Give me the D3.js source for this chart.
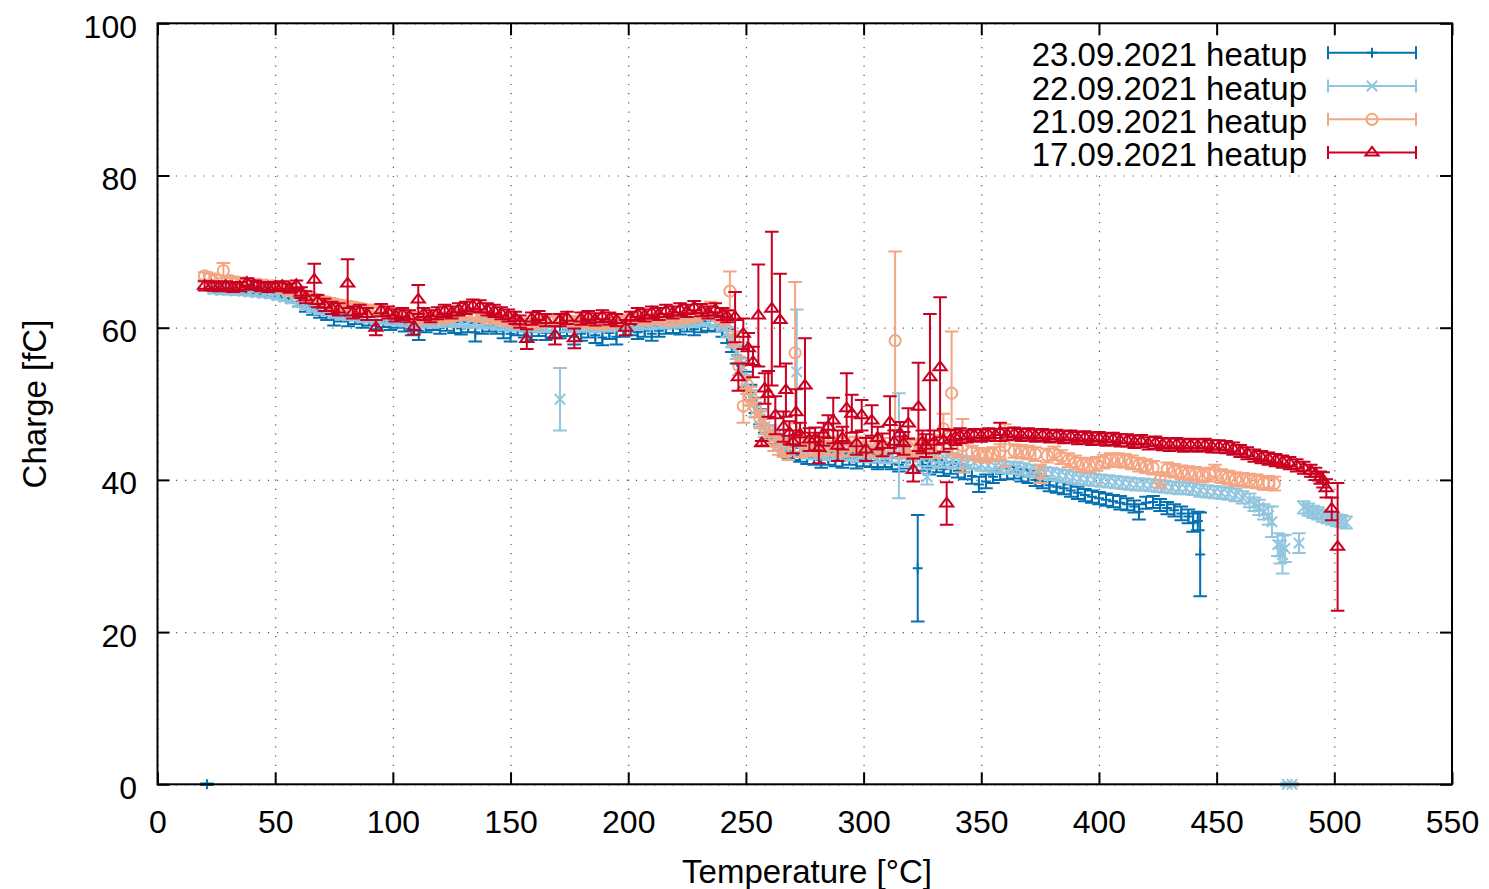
<!DOCTYPE html>
<html><head><meta charset="utf-8">
<script src="https://cdn.jsdelivr.net/npm/d3@7"></script>
<style>body{margin:0;background:#fff} text{font-family:"Liberation Sans",Arial,Helvetica,sans-serif;fill:#000}</style>
</head><body><svg id="c" width="1489" height="889"></svg>
<script>
// [temperature °C, charge fC, error fC]
const s23 = [[21,0,0.1],[24,65.3,0.5],[27,65.2,0.5],[30,65.3,0.5],[33,65.1,0.5],[36,65.2,0.5],[39,65.0,0.5],[42,64.9,0.5],[45,64.8,0.6],[48,64.6,0.5],[51,64.5,0.5],[54,64.3,0.6],[57,63.9,0.6],[60,63.4,0.6],[63,62.8,0.7],[66,62.4,0.7],[69,62.0,0.7],[72,61.8,0.8],[75,61.3,1.0],[78,61.5,0.7],[81,61.0,0.8],[84,61.2,0.7],[87,60.8,0.8],[90,61.0,0.7],[93,60.6,0.8],[96,60.8,0.7],[99,60.5,0.8],[102,60.7,0.7],[105,60.3,0.8],[108,60.0,1.0],[111,59.6,1.2],[114,60.2,0.8],[117,60.4,0.7],[120,60.0,0.8],[123,60.3,0.7],[126,60.1,0.8],[129,59.9,0.8],[132,60.2,0.8],[135,59.4,1.2],[138,60.0,0.8],[141,60.3,0.8],[144,60.0,0.8],[147,59.6,1.0],[150,59.2,1.0],[153,59.8,0.8],[156,59.5,0.8],[159,59.4,1.0],[162,59.7,0.8],[165,59.3,0.9],[168,59.5,0.8],[171,59.4,0.8],[174,59.7,0.8],[177,58.8,1.0],[180,59.2,0.9],[183,59.5,0.8],[186,59.0,1.0],[189,58.7,1.0],[192,59.3,0.8],[195,58.8,1.0],[198,59.6,0.8],[201,59.8,0.8],[204,59.4,0.9],[207,59.6,0.8],[210,59.2,0.9],[213,59.6,0.8],[216,59.9,0.7],[219,60.0,0.7],[222,59.9,0.8],[225,60.2,0.7],[228,59.8,0.8],[231,60.1,0.7],[234,60.3,0.7],[237,60.2,0.7],[240,59.6,0.8],[242,58.9,0.9],[244,57.8,1.0],[246,56.4,1.1],[248,55.0,1.0],[250,53.2,1.0],[252,51.5,1.0],[254,49.8,1.0],[256,48.3,1.0],[258,47.2,1.0],[260,46.3,0.9],[262,45.6,0.9],[264,44.8,0.9],[266,44.2,0.9],[268,43.8,0.9],[270,43.5,0.9],[273,43.3,0.9],[276,43.0,0.9],[279,42.9,0.9],[282,42.6,1.0],[285,42.9,0.9],[288,42.7,0.9],[291,42.5,0.9],[294,42.8,0.8],[297,42.4,0.9],[300,42.6,0.8],[303,42.5,0.8],[306,42.3,0.9],[309,42.5,0.8],[312,42.2,0.8],[315,42.0,0.9],[318,42.3,0.8],[321,41.8,0.9],[323,28.4,7.0],[325,42.0,0.8],[328,41.6,0.9],[331,41.8,0.8],[334,41.4,0.9],[337,41.6,0.8],[340,41.2,0.9],[343,41.0,0.9],[346,40.5,1.0],[349,39.4,1.0],[352,39.8,0.9],[355,40.4,0.8],[358,40.8,0.8],[361,40.9,0.8],[364,41.0,0.8],[367,40.6,0.8],[370,40.4,0.8],[373,40.0,0.8],[376,39.7,0.8],[379,39.3,0.8],[382,39.1,0.8],[385,38.9,0.8],[388,38.6,0.8],[391,38.3,0.8],[394,38.0,0.8],[397,37.8,0.8],[400,37.6,0.8],[403,37.4,0.8],[406,37.2,0.8],[409,37.0,0.9],[412,36.8,0.8],[415,36.5,0.8],[417,35.8,1.0],[420,37.0,0.8],[423,37.1,0.8],[426,36.7,0.8],[429,36.3,0.8],[432,36.0,0.8],[435,35.6,0.9],[438,35.2,0.9],[440,34.4,1.2],[442,34.6,1.2],[443,30.2,5.5]];

const s22 = [[24,65.0,0.5],[27,64.9,0.5],[30,64.9,0.5],[33,64.8,0.5],[36,64.8,0.5],[39,64.7,0.5],[42,64.6,0.5],[45,64.5,0.5],[48,64.4,0.5],[51,64.2,0.5],[54,64.0,0.5],[57,63.8,0.6],[60,63.4,0.6],[63,63.0,0.6],[66,62.7,0.6],[69,62.4,0.6],[72,62.2,0.6],[75,61.9,0.6],[78,61.7,0.6],[81,61.6,0.6],[84,61.5,0.6],[87,61.3,0.6],[90,61.3,0.6],[93,61.1,0.6],[96,61.2,0.6],[99,61.0,0.6],[102,60.9,0.6],[105,60.8,0.6],[108,60.7,0.6],[111,60.6,0.6],[114,60.8,0.6],[117,60.6,0.6],[120,60.7,0.6],[123,60.9,0.6],[126,60.7,0.6],[129,60.8,0.6],[132,60.6,0.6],[135,60.7,0.6],[138,60.5,0.6],[141,60.6,0.6],[144,60.4,0.6],[147,60.3,0.6],[150,60.2,0.6],[153,60.3,0.6],[156,60.1,0.6],[159,60.2,0.6],[162,60.0,0.6],[165,60.1,0.6],[168,60.0,0.6],[171,50.6,4.1],[174,60.1,0.6],[177,60.0,0.6],[180,60.2,0.6],[183,60.1,0.6],[186,60.0,0.6],[189,60.2,0.6],[192,60.1,0.6],[195,60.3,0.6],[198,60.2,0.6],[201,60.4,0.6],[204,60.3,0.6],[207,60.5,0.6],[210,60.4,0.6],[213,60.6,0.6],[216,60.5,0.6],[219,60.7,0.6],[222,60.6,0.6],[225,60.8,0.6],[228,60.7,0.6],[231,60.9,0.6],[234,60.8,0.6],[237,60.6,0.6],[240,60.2,0.6],[242,59.4,0.7],[244,58.2,0.8],[246,56.8,0.9],[248,55.0,1.0],[250,52.8,1.0],[252,50.8,1.0],[254,49.2,1.0],[256,48.0,1.0],[258,47.0,1.0],[260,46.2,1.0],[262,45.5,1.0],[264,45.0,1.0],[266,44.6,1.0],[268,44.3,1.0],[271.6,54.2,8.2],[273,44.0,1.0],[276,43.8,1.0],[279,43.7,1.0],[282,43.9,1.0],[285,43.6,1.0],[288,43.8,1.0],[291,43.5,1.0],[294,43.6,1.0],[297,43.4,1.0],[300,43.5,1.0],[303,43.3,1.0],[306,43.4,1.0],[309,43.2,1.0],[312,43.3,1.0],[315,44.5,6.9],[318,43.2,1.5],[321,42.9,1.0],[324,43.0,1.2],[327,40.4,1.0],[329,42.8,1.0],[332,42.6,1.0],[335,42.7,1.0],[338,42.5,1.0],[341,42.4,0.8],[344,42.2,0.8],[347,42.3,0.8],[350,42.0,0.8],[353,41.9,0.8],[356,41.8,0.8],[359,41.7,0.8],[362,41.6,0.8],[365,41.6,0.8],[368,41.4,0.8],[371,41.2,0.8],[374,41.1,0.8],[377,40.9,0.8],[380,40.8,0.8],[383,40.6,0.8],[386,40.5,0.8],[389,40.3,0.8],[392,40.2,0.8],[395,40.1,0.8],[398,40.0,0.8],[401,39.9,0.8],[404,39.8,0.8],[407,39.7,0.8],[410,39.6,0.8],[413,39.5,0.8],[416,39.4,0.8],[419,39.4,0.8],[422,39.3,0.8],[425,39.2,0.8],[428,39.1,0.8],[431,39.0,0.8],[434,38.9,0.8],[437,38.9,0.8],[440,38.8,0.8],[443,38.6,0.8],[446,38.5,0.8],[449,38.4,0.8],[452,38.3,0.8],[455,38.2,0.8],[458,38.0,0.8],[461,37.7,0.8],[464,37.3,0.9],[466,36.8,0.9],[468,36.4,1.0],[470,35.8,1.0],[472,35.3,1.2],[473.5,34.5,2.0],[476,31.5,1.5],[477,30.5,1.5],[478,30.2,2.5],[479,31.0,1.8],[480,0,0.2],[482,0,0.2],[485,31.7,1.3],[487,36.4,0.8],[489,36.1,0.8],[491,35.8,0.8],[493,35.6,0.8],[495,35.3,0.8],[497,35.1,0.8],[499,34.9,0.8],[501,34.7,0.8],[503,34.6,0.8],[505,34.4,0.8]];

const s21 = [[20,66.8,0.5],[22,66.6,0.5],[25,66.4,0.5],[28,67.5,1.0],[31,66.2,0.5],[34,66.0,0.5],[37,65.9,0.5],[40,65.8,0.5],[43,65.7,0.5],[46,65.6,0.5],[49,65.5,0.5],[52,65.3,0.5],[55,65.0,0.5],[58,64.7,0.5],[61,64.4,0.5],[64,64.1,0.5],[67,63.8,0.6],[70,63.5,0.6],[73,63.3,0.6],[76,63.1,0.6],[79,62.9,0.6],[82,62.8,0.6],[85,62.6,0.6],[88,62.4,0.6],[91,62.3,0.6],[94,62.2,0.6],[97,62.0,0.6],[100,61.9,0.6],[103,61.7,0.6],[106,61.6,0.6],[109,61.4,0.6],[112,61.3,0.6],[115,61.2,0.6],[118,61.3,0.6],[121,61.2,0.6],[124,61.4,0.6],[127,61.6,0.6],[130,61.8,0.6],[133,61.7,0.6],[136,61.5,0.6],[139,61.4,0.6],[142,61.3,0.6],[145,61.1,0.6],[148,61.0,0.6],[151,60.8,0.6],[154,60.6,0.6],[157,60.5,0.6],[160,60.5,0.6],[163,60.7,0.6],[166,60.9,0.6],[169,61.0,0.6],[172,61.1,0.6],[175,60.9,0.6],[178,60.8,0.6],[181,60.7,0.6],[184,60.6,0.6],[187,60.5,0.6],[190,60.5,0.6],[193,60.6,0.6],[196,60.8,0.6],[199,61.0,0.6],[202,61.2,0.6],[205,61.1,0.6],[208,61.0,0.6],[211,61.2,0.6],[214,61.1,0.6],[217,61.0,0.6],[220,61.1,0.6],[223,61.2,0.6],[226,61.4,0.6],[229,61.5,0.6],[232,61.8,0.6],[235,62.6,0.8],[238,61.5,0.6],[241,61.0,0.7],[243.2,64.8,2.6],[245,58.5,1.0],[247,55.0,1.2],[248.9,49.7,2.2],[250.5,52.5,1.2],[252,51.0,1.2],[254,49.5,1.2],[256,48.0,1.2],[258,46.8,1.2],[260,45.8,1.2],[262,45.0,1.2],[264,44.5,1.2],[266,44.2,1.2],[268,43.9,1.3],[270.9,56.7,9.3],[273,44.2,1.2],[276,44.5,1.2],[279,44.3,1.2],[282,44.6,1.2],[285,44.4,1.2],[288,44.5,1.2],[291,44.3,1.2],[294,44.4,1.2],[297,44.5,1.2],[300,44.3,1.2],[303,44.4,1.2],[306,44.2,1.2],[309,44.3,1.2],[313.4,58.3,11.7],[316,44.1,1.2],[319,44.3,1.2],[322,44.0,1.2],[325,44.2,1.2],[328,44.1,1.2],[331,44.4,1.5],[333.9,46.7,2.0],[337.4,51.4,8.1],[340,44.0,1.0],[342,44.5,3.5],[346,43.6,0.9],[349,43.3,0.9],[352,43.2,0.9],[355,43.4,0.9],[358,43.7,1.0],[360,44.5,2.8],[364,43.8,0.9],[367,43.7,0.9],[370,43.6,0.9],[373,43.4,0.9],[375,40.8,1.2],[378,43.2,0.9],[381,43.5,0.9],[384,43.0,0.9],[387,42.6,0.9],[390,42.3,0.9],[393,42.0,0.9],[396,41.9,0.9],[399,42.1,0.9],[402,42.4,0.9],[405,42.6,0.9],[408,42.6,0.9],[411,42.5,0.9],[414,42.3,0.9],[417,42.0,0.9],[420,41.8,0.9],[423,41.6,0.9],[426,40.0,1.0],[429,41.4,0.9],[432,41.2,0.9],[435,41.0,0.9],[438,40.9,0.9],[441,40.8,0.9],[444,40.6,0.9],[447,40.7,0.9],[449.3,41.1,0.9],[452,40.5,0.9],[455,40.3,0.9],[458,40.1,0.9],[461,40.0,0.9],[464,39.9,0.9],[467,39.8,0.9],[470,39.6,0.9],[472,39.6,0.9],[474.5,39.5,0.9]];

const s17 = [[20,65.5,0.6],[23,65.5,0.6],[26,65.4,0.6],[29,65.5,0.6],[32,65.3,0.6],[35,65.4,0.6],[38,65.9,0.6],[41,65.6,0.6],[44,65.4,0.6],[47,65.3,0.6],[50,65.4,0.6],[53,65.5,0.6],[56,65.2,0.6],[59,65.6,0.6],[61,64.6,0.7],[63,64.0,0.8],[66.6,66.3,2.1],[68,63.5,0.8],[71,63.0,0.8],[74,62.6,0.8],[77,62.4,0.8],[80.8,65.8,3.2],[83,62.0,0.8],[86,62.2,0.8],[89,61.8,0.8],[92.8,60.0,1.0],[95,62.3,0.8],[98,62.0,0.8],[101,61.6,0.8],[104,61.8,0.8],[107,61.5,0.8],[109,60.1,1.0],[110.8,63.7,1.9],[113,61.8,0.8],[116,61.5,0.8],[119,61.9,0.8],[122,62.2,0.8],[125,62.0,0.8],[128,62.4,0.8],[131,62.6,0.8],[134,62.9,0.8],[137,62.8,0.8],[140,62.4,0.8],[143,62.2,0.8],[146,61.9,0.8],[149,61.6,0.8],[152,61.3,0.8],[154,60.8,0.8],[156.9,58.5,1.3],[159,61.2,0.8],[162,61.4,0.8],[165,61.0,0.8],[168.9,59.0,1.2],[171,61.0,0.8],[174,61.3,0.8],[177.1,58.6,1.3],[180,61.2,0.8],[183,61.4,0.8],[186,61.1,0.8],[189,61.5,0.8],[192,61.2,0.8],[195,61.0,0.8],[198.9,60.0,1.0],[201,61.3,0.8],[204,61.8,0.8],[207,61.6,0.8],[210,62.0,0.8],[213,61.8,0.8],[216,62.2,0.8],[219,62.0,0.8],[222,62.4,0.8],[225,62.2,0.8],[228,62.7,0.8],[231,62.3,0.8],[234,62.0,0.8],[237,62.4,0.8],[240,61.8,0.8],[242,61.5,0.8],[245.4,61.4,3.3],[246.8,53.5,1.8],[248.9,59.2,2.0],[251,57.3,2.0],[253,55.5,2.0],[255.3,61.6,6.7],[256.7,44.8,0.3],[258,52.0,2.0],[259.5,51.3,3.0],[261,62.5,10.1],[262.5,48.5,2.5],[264.5,61.0,6.1],[266,47.0,2.0],[267,51.8,3.5],[268.5,46.2,1.5],[270,45.0,1.5],[271.3,48.9,3.0],[273,46.0,1.5],[275.1,52.4,6.2],[277,45.3,1.5],[279.4,45.4,1.5],[281,44.2,2.0],[283,46.0,1.5],[285,47.0,1.5],[287.1,47.8,3.0],[289,44.5,2.0],[291,45.5,1.5],[292.8,49.4,4.6],[295,48.7,2.5],[297,44.8,1.5],[299.2,48.5,2.0],[301,44.0,1.5],[303.5,47.8,2.0],[306,45.5,1.5],[308,44.6,1.5],[311.2,47.6,3.4],[313,45.0,1.5],[315.5,46.1,1.5],[317,44.8,1.5],[319,47.4,2.0],[321.1,41.3,1.5],[323.3,49.6,5.8],[325,45.0,1.5],[326.5,44.5,1.5],[328.2,53.5,8.3],[330,45.0,1.5],[332.5,54.8,9.2],[334,45.2,1.5],[335.3,36.9,2.8],[337,45.3,1.2],[339,45.6,1.0],[341,45.8,1.0],[344,45.7,0.8],[347,45.9,0.8],[350,45.8,0.8],[353,46.0,0.8],[356,45.9,0.8],[358,46.3,1.2],[361,46.0,0.8],[364,46.1,0.8],[367,45.9,0.8],[370,46.0,0.8],[373,45.8,0.8],[376,45.9,0.8],[379,45.7,0.8],[382,45.8,0.8],[385,45.6,0.8],[388,45.7,0.8],[391,45.5,0.8],[394,45.6,0.8],[397,45.4,0.8],[400,45.5,0.8],[403,45.3,0.8],[406,45.4,0.8],[409,45.2,0.8],[412,45.2,0.8],[415,45.0,0.8],[418,45.1,0.8],[421,44.8,0.8],[424,44.9,0.8],[427,44.7,0.8],[430,44.6,0.8],[433,44.7,0.8],[436,44.5,0.8],[439,44.6,0.8],[442,44.5,0.8],[445,44.6,0.8],[448,44.4,0.8],[451,44.4,0.8],[454,44.3,0.8],[457,44.1,0.8],[460,43.8,0.8],[463,43.5,0.8],[466,43.2,0.8],[469,43.0,0.8],[472,42.8,0.8],[475,42.6,0.8],[478,42.4,0.8],[481,42.2,0.8],[484,41.9,0.8],[487,41.6,0.8],[490,41.2,0.8],[492,40.8,0.8],[494,40.3,0.8],[495.2,40.0,1.0],[496.6,38.9,1.2],[498.9,36.2,1.5],[501.4,31.2,8.4]];

const seriesNames = ["23.09.2021 heatup","22.09.2021 heatup","21.09.2021 heatup","17.09.2021 heatup"];
const seriesColors = ["#0571b0","#92c5de","#f4a582","#ca0020"];
const seriesMarkers = ["plus","cross","circle","triangle"];
const xTicks = [0,50,100,150,200,250,300,350,400,450,500,550];
const yTicks = [0,20,40,60,80,100];
const xLabel = "Temperature [°C]";
const yLabel = "Charge [fC]";

const svg = d3.select("#c");
const L = 157.5, R = 1452, T = 23.3, B = 784.3;
const x = d3.scaleLinear().domain([0,550]).range([L,R]);
const y = d3.scaleLinear().domain([0,100]).range([B,T]);

// grid
const grid = svg.append("g");
grid.append("g").attr("transform",`translate(0,${B})`)
  .call(d3.axisBottom(x).tickValues(xTicks).tickSize(-(B-T)).tickFormat(""));
grid.append("g").attr("transform",`translate(${L},0)`)
  .call(d3.axisLeft(y).tickValues(yTicks).tickSize(-(R-L)).tickFormat(""));
grid.selectAll(".domain").remove();
grid.selectAll("line").attr("stroke","#555").attr("stroke-width",1.2).attr("stroke-dasharray","1.2,8");

// opaque key area
svg.append("rect").attr("x",1015).attr("y",T+1).attr("width",R-1015-2).attr("height",148).attr("fill","#fff");

function markerPath(type){
  switch(type){
    case "plus": return "M-5,0H5M0,-5V5";
    case "cross": return "M-5.2,-5.2L5.2,5.2M-5.2,5.2L5.2,-5.2";
    case "circle": return d3.arc()({innerRadius:0,outerRadius:5.6,startAngle:0,endAngle:2*Math.PI});
    case "triangle": return "M0,-5.8L6.6,3L-6.6,3Z";
  }
}
const capW = 6.8;
const allSeries = [s23,s22,s21,s17];
allSeries.forEach((data,i)=>{
  const g = svg.append("g").attr("stroke",seriesColors[i]).attr("fill","none").attr("stroke-width",2);
  const pts = g.selectAll("g.pt").data(data).join("g").attr("class","pt");
  pts.append("path").attr("d",d=>{
    const px=x(d[0]), y1=y(d[1]+d[2]), y0=y(d[1]-d[2]);
    return `M${px},${y0}V${y1}M${px-capW},${y1}H${px+capW}M${px-capW},${y0}H${px+capW}`;
  });
  pts.append("path").attr("transform",d=>`translate(${x(d[0])},${y(d[1])})`).attr("d",markerPath(seriesMarkers[i]));
});

// axes ticks (inward, mirrored)
const tk = 12;
const ax = svg.append("g").attr("transform",`translate(0,${B})`)
  .call(d3.axisBottom(x).tickValues(xTicks).tickSizeInner(-tk).tickSizeOuter(0).tickPadding(25.5));
const ay = svg.append("g").attr("transform",`translate(${L},0)`)
  .call(d3.axisLeft(y).tickValues(yTicks).tickSizeInner(-tk).tickSizeOuter(0).tickPadding(20.5));
const axt = svg.append("g").attr("transform",`translate(0,${T})`)
  .call(d3.axisTop(x).tickValues(xTicks).tickSizeInner(-tk).tickSizeOuter(0).tickFormat(""));
const ayr = svg.append("g").attr("transform",`translate(${R},0)`)
  .call(d3.axisRight(y).tickValues(yTicks).tickSizeInner(-tk).tickSizeOuter(0).tickFormat(""));
[ax,ay,axt,ayr].forEach(a=>{a.select(".domain").remove(); a.selectAll("line").attr("stroke","#000").attr("stroke-width",2);});
ax.selectAll("text").attr("font-size",32).attr("font-family",null).attr("fill","#000");
ay.selectAll("text").attr("font-size",32).attr("font-family",null).attr("fill","#000").attr("dy","14px");
svg.selectAll(".tick text").style("font-family",'"Liberation Sans",Arial,Helvetica,sans-serif');

// frame
svg.append("rect").attr("x",L).attr("y",T).attr("width",R-L).attr("height",B-T)
  .attr("fill","none").attr("stroke","#000").attr("stroke-width",2);

// labels
svg.append("text").attr("x",807).attr("y",883).attr("text-anchor","middle").attr("font-size",33).text(xLabel);
svg.append("text").attr("transform","translate(46,404) rotate(-90)").attr("text-anchor","middle").attr("font-size",33).text(yLabel);

// legend
seriesNames.forEach((name,i)=>{
  const ly = 52.7 + 33.3*i;
  const lg = svg.append("g");
  lg.append("text").attr("x",1307).attr("y",ly+13.5).attr("text-anchor","end").attr("font-size",33).text(name);
  const g = lg.append("g").attr("stroke",seriesColors[i]).attr("fill","none").attr("stroke-width",2);
  g.append("path").attr("d",`M1328,${ly}H1416M1328,${ly-6.5}V${ly+6.5}M1416,${ly-6.5}V${ly+6.5}`);
  g.append("path").attr("transform",`translate(1372,${ly})`).attr("d",markerPath(seriesMarkers[i]));
});
</script></body></html>
